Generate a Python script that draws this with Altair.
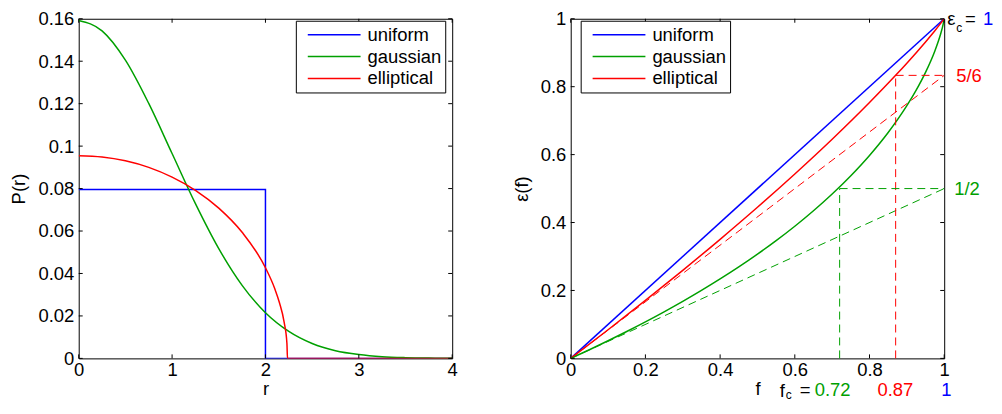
import altair as alt
import pandas as pd

FONT = "Liberation Sans"
FS = 18.5
W, H = 375, 341

series_names = ["uniform", "gaussian", "elliptical"]
series_colors = ["#0000ff", "#00a000", "#ff0000"]

# ---------------- left panel: P(r) ----------------
r_uniform = [0, 2, 2, 4]
p_uniform = [0.0796, 0.0796, 0, 0]

r_gauss = [0, 0.25, 0.5, 0.75, 1.0, 1.25, 1.5, 1.75, 2.0, 2.25, 2.5, 2.75, 3.0, 3.25, 3.5, 3.75, 4.0]
p_gauss = [0.1592, 0.1543, 0.1405, 0.1201, 0.0965, 0.0729, 0.0517, 0.0344, 0.0215, 0.0127,
           0.0070, 0.0036, 0.0018, 0.0008, 0.00035, 0.00014, 0.00005]

r_ellip = [0, 0.25, 0.5, 0.75, 1.0, 1.25, 1.5, 1.75, 2.0, 2.1, 2.15, 2.2, 2.23, 2.236, 3.0, 4.0]
p_ellip = [0.0955, 0.0949, 0.0931, 0.0900, 0.0854, 0.0792, 0.0708, 0.0594, 0.0427, 0.0328,
           0.0262, 0.0171, 0.0070, 0.0, 0.0, 0.0]

r_ticks = [0, 1, 2, 3, 4]
p_ticks = [0, 0.02, 0.04, 0.06, 0.08, 0.1, 0.12, 0.14, 0.16]

# ---------------- right panel: eps(f) ----------------
f_uniform = [0, 1]
e_uniform = [0, 1]

f_gauss = [0, 0.05, 0.1, 0.15, 0.2, 0.25, 0.3, 0.35, 0.4, 0.45, 0.5, 0.55, 0.6, 0.65, 0.7,
           0.75, 0.8, 0.85, 0.9, 0.925, 0.95, 0.975, 0.99, 0.997, 1]
e_gauss = [0, 0.0254, 0.0518, 0.0791, 0.1074, 0.1370, 0.1678, 0.2000, 0.2338, 0.2693, 0.3069,
           0.3467, 0.3891, 0.4347, 0.4840, 0.5379, 0.5976, 0.6652, 0.7442, 0.7900, 0.8423,
           0.9054, 0.9535, 0.9825, 1]

f_ellip = [0, 0.1, 0.2, 0.3, 0.4, 0.5, 0.6, 0.7, 0.8, 0.87, 0.9, 0.95, 0.975, 0.99, 1]
e_ellip = [0, 0.0843, 0.1706, 0.2593, 0.3506, 0.4449, 0.5429, 0.6452, 0.7533, 0.8334, 0.8692,
           0.9318, 0.9648, 0.9856, 1]

# dashed guide lines (start / end points)
dash_series = ["elliptical", "gaussian", "elliptical", "elliptical", "gaussian", "gaussian"]
dash_f1 = [0, 0, 0.87, 0.87, 0.72, 0.72]
dash_e1 = [0, 0, 0, 0.8333, 0, 0.5]
dash_f2 = [1, 1, 0.87, 1, 0.72, 1]
dash_e2 = [0.8333, 0.5, 0.8333, 0.8333, 0.5, 0.5]

f_ticks = [0, 0.2, 0.4, 0.6, 0.8, 1]
e_ticks = [0, 0.2, 0.4, 0.6, 0.8, 1]

# annotations outside the right panel
ann_col_text = ["5/6", "1/2", "0.72", "0.87", "1", "1"]
ann_col_series = ["elliptical", "gaussian", "gaussian", "elliptical", "uniform", "uniform"]
ann_col_f = [1.032, 1.0267, 0.6533, 0.8213, 0.992, 1.104]
ann_col_e = [0.8137, 0.4804, -0.1114, -0.1114, -0.1114, 0.9824]

ann_blk_text = ["\u03b5", "=", "f", "="]
ann_blk_f = [1.008, 1.056, 0.56, 0.6133]
ann_blk_e = [0.9824, 0.9824, -0.1129, -0.1114]

ann_sub_text = ["c", "c"]
ann_sub_f = [1.032, 0.576]
ann_sub_e = [0.962, -0.1188]

color_scale = alt.Scale(domain=series_names, range=series_colors)


def make_legend(x, y):
    return alt.Legend(title=None, orient="none", legendX=x, legendY=y, direction="vertical",
                      symbolType="stroke", symbolSize=2809, symbolStrokeWidth=1.5,
                      clipHeight=22, rowPadding=0, labelFontSize=FS, labelFont=FONT,
                      labelColor="black", labelOffset=6, symbolOffset=8, padding=3,
                      strokeColor="black", fillColor="white", labelLimit=300)


def panel(xdom, ydom, xticks, yticks, xtitle, ytitle, line_layers, extra_layers, legend):
    sx = alt.Scale(domain=xdom, nice=False, zero=False)
    sy = alt.Scale(domain=ydom, nice=False, zero=False)
    ax_x = alt.Axis(title=xtitle, values=xticks, format="~g", ticks=False, domain=False,
                    grid=False, labelPadding=2, titlePadding=1, labelFlush=False,
                    labelOverlap=False)
    ax_y = alt.Axis(title=ytitle, values=yticks, format="~g", ticks=False, domain=False,
                    grid=False, labelPadding=5, titlePadding=9, labelFlush=False,
                    labelOverlap=False)
    X = lambda f="x": alt.X(f"{f}:Q", scale=sx, axis=ax_x)
    Y = lambda f="y": alt.Y(f"{f}:Q", scale=sy, axis=ax_y)
    C = alt.Color("series:N", scale=color_scale, legend=legend)

    layers = []
    for xs, ys, name, interp in line_layers:
        df = pd.DataFrame({"x": xs, "y": ys, "series": name})
        layers.append(alt.Chart(df).mark_line(strokeWidth=1.5, interpolate=interp, clip=True)
                      .encode(x=X(), y=Y(), color=C, order=alt.Order("x:Q")))
    for kind, df in extra_layers:
        if kind == "dash":
            layers.append(alt.Chart(df).mark_rule(strokeWidth=1, strokeDash=[8, 5])
                          .encode(x=X(), y=Y(), x2="x2:Q", y2="y2:Q", color=C))
        elif kind == "coltext":
            layers.append(alt.Chart(df).mark_text(align="left", baseline="alphabetic",
                                                  font=FONT, fontSize=FS)
                          .encode(x=X(), y=Y(), text="t:N", color=C))
        elif kind == "blktext":
            layers.append(alt.Chart(df).mark_text(align="left", baseline="alphabetic",
                                                  font=FONT, fontSize=FS, color="black")
                          .encode(x=X(), y=Y(), text="t:N"))
        elif kind == "subtext":
            layers.append(alt.Chart(df).mark_text(align="left", baseline="alphabetic",
                                                  font=FONT, fontSize=12, color="black")
                          .encode(x=X(), y=Y(), text="t:N"))
    # inward tick marks on all four sides
    dxt = pd.DataFrame({"x": xticks})
    dyt = pd.DataFrame({"y": yticks})
    tick = dict(color="black", strokeWidth=1)
    layers.append(alt.Chart(dxt).mark_rule(**tick).encode(x=X(), y=alt.value(H), y2=alt.value(H - 4)))
    layers.append(alt.Chart(dxt).mark_rule(**tick).encode(x=X(), y=alt.value(0), y2=alt.value(4)))
    layers.append(alt.Chart(dyt).mark_rule(**tick).encode(y=Y(), x=alt.value(0), x2=alt.value(4)))
    layers.append(alt.Chart(dyt).mark_rule(**tick).encode(y=Y(), x=alt.value(W - 4), x2=alt.value(W)))
    return alt.layer(*layers).properties(width=W, height=H)


left = panel([0, 4], [0, 0.16], r_ticks, p_ticks, "r", "P(r)",
             [(r_uniform, p_uniform, "uniform", "linear"),
              (r_gauss, p_gauss, "gaussian", "monotone"),
              (r_ellip, p_ellip, "elliptical", "monotone")],
             [], make_legend(218, 2))

dash_df = pd.DataFrame({"x": dash_f1, "y": dash_e1, "x2": dash_f2, "y2": dash_e2,
                        "series": dash_series})
col_df = pd.DataFrame({"x": ann_col_f, "y": ann_col_e, "t": ann_col_text, "series": ann_col_series})
blk_df = pd.DataFrame({"x": ann_blk_f, "y": ann_blk_e, "t": ann_blk_text})
sub_df = pd.DataFrame({"x": ann_sub_f, "y": ann_sub_e, "t": ann_sub_text})

right = panel([0, 1], [0, 1], f_ticks, e_ticks, "f", "\u03b5(f)",
              [(f_uniform, e_uniform, "uniform", "linear"),
               (f_gauss, e_gauss, "gaussian", "monotone"),
               (f_ellip, e_ellip, "elliptical", "monotone")],
              [("dash", dash_df), ("coltext", col_df), ("blktext", blk_df), ("subtext", sub_df)],
              make_legend(10, 2))

chart = (alt.hconcat(left, right, spacing=119, bounds="flush")
         .resolve_scale(color="independent")
         .properties(padding={"left": 1, "top": 0, "right": 0, "bottom": 0}, background="white")
         .configure_view(stroke="black", strokeWidth=1)
         .configure_axis(labelFont=FONT, labelFontSize=FS, labelColor="black",
                         titleFont=FONT, titleFontSize=FS, titleFontWeight="normal",
                         titleColor="black"))

chart.save("out.html", embed_options={"renderer": "svg", "actions": False})
